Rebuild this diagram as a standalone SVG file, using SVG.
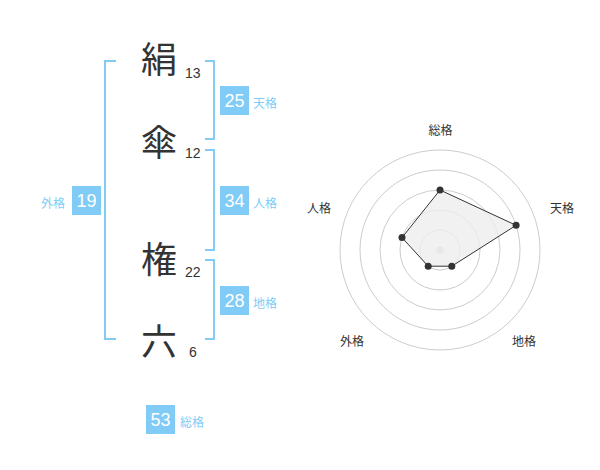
<svg xmlns="http://www.w3.org/2000/svg" width="600" height="470" viewBox="0 0 600 470">
<style>
.k{font-family:"Noto Sans CJK JP","Noto Sans CJK SC",sans-serif;font-size:36px;fill:#333;text-anchor:middle}
.n{font-family:"Liberation Sans",Arial,sans-serif;font-size:14px;fill:#333}
.br{fill:none;stroke:#80ccf7;stroke-width:2}
.box{fill:#80ccf7}
.bv{font-family:"Liberation Sans",Arial,sans-serif;font-size:18px;fill:#fff;text-anchor:middle}
.bl{font-family:"Noto Sans CJK JP","Noto Sans CJK SC",sans-serif;font-size:12px;fill:#80ccf7}
.ring{fill:none;stroke:#ccc;stroke-width:1}
.rl{font-family:"Noto Sans CJK JP","Noto Sans CJK SC",sans-serif;font-size:12px;fill:#333;text-anchor:middle}
.pt{fill:#333}
</style>
<rect width="600" height="470" fill="#fff"/>
<g id="chars">
<g id="c1"><text class="k" x="159" y="73">絹</text><text class="n" x="185" y="78">13</text></g>
<g id="c2"><text class="k" x="159" y="156">傘</text><text class="n" x="185" y="158">12</text></g>
<g id="c3"><text class="k" x="159" y="273">権</text><text class="n" x="185" y="277">22</text></g>
<g id="c4"><text class="k" x="159" y="355">六</text><text class="n" x="189" y="357">6</text></g>
</g>
<g id="connectors">
<path class="br" d="M116,61 H105 V339 H116"/>
<path class="br" d="M205,61 H214 V139 H205"/>
<path class="br" d="M205,150 H214 V250 H205"/>
<path class="br" d="M205,260 H214 V339 H205"/>
</g>
<g id="tenkaku"><rect class="box" x="220" y="86" width="29" height="29"/><text class="bv" x="234.5" y="107">25</text><text class="bl" x="253" y="107.5">天格</text></g>
<g id="jinkaku"><rect class="box" x="220" y="186" width="29" height="29"/><text class="bv" x="234.5" y="207">34</text><text class="bl" x="253" y="207.5">人格</text></g>
<g id="chikaku"><rect class="box" x="220" y="286" width="29" height="29"/><text class="bv" x="234.5" y="307">28</text><text class="bl" x="253" y="307.5">地格</text></g>
<g id="gaikaku"><rect class="box" x="72" y="186" width="29" height="29"/><text class="bv" x="86.5" y="207">19</text><text class="bl" x="41" y="207.5">外格</text></g>
<g id="soukaku"><rect class="box" x="146" y="405" width="29" height="29"/><text class="bv" x="160.5" y="426">53</text><text class="bl" x="180" y="426.5">総格</text></g>
<g id="radar">
<circle class="ring" cx="440" cy="250" r="20"/>
<circle class="ring" cx="440" cy="250" r="40"/>
<circle class="ring" cx="440" cy="250" r="60"/>
<circle class="ring" cx="440" cy="250" r="80"/>
<circle class="ring" cx="440" cy="250" r="100"/>
<circle cx="440" cy="250" r="3.5" fill="#ccc"/>
<polygon points="440,190 516.1,225.3 451.8,266.2 428.2,266.2 402,237.6" fill="#eee" fill-opacity="0.8" stroke="#333" stroke-width="1"/>
<circle class="pt" cx="440" cy="190" r="3.5"/>
<circle class="pt" cx="516.1" cy="225.3" r="3.5"/>
<circle class="pt" cx="451.8" cy="266.2" r="3.5"/>
<circle class="pt" cx="428.2" cy="266.2" r="3.5"/>
<circle class="pt" cx="402" cy="237.6" r="3.5"/>
<text class="rl" x="440.5" y="135">総格</text>
<text class="rl" x="562" y="213">天格</text>
<text class="rl" x="319" y="213">人格</text>
<text class="rl" x="352" y="346">外格</text>
<text class="rl" x="524" y="346">地格</text>
</g>
</svg>
